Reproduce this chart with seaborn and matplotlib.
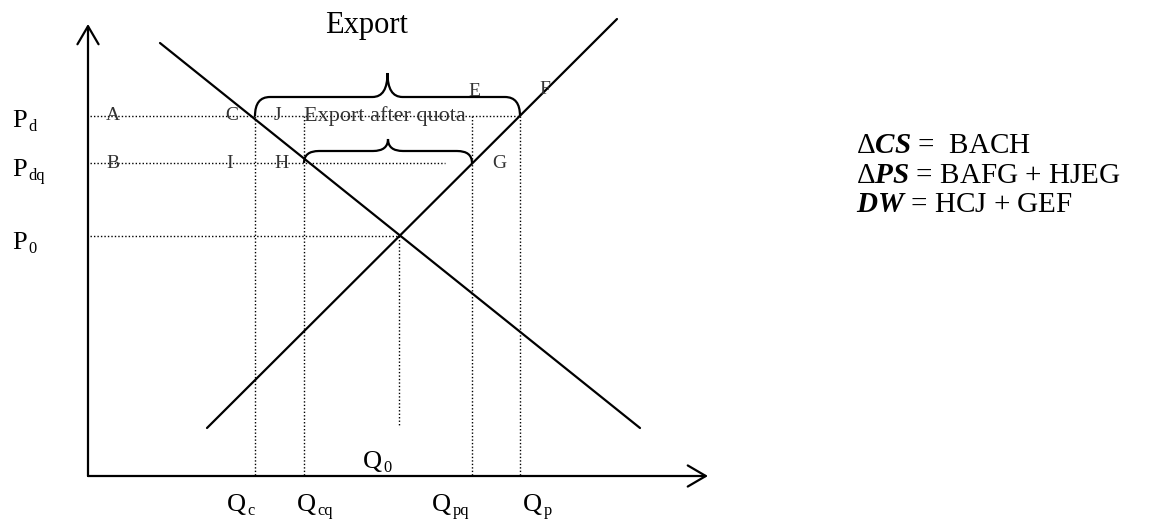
import matplotlib
matplotlib.use("Agg")
import matplotlib.pyplot as plt
from matplotlib.patches import FancyArrowPatch, PathPatch
from matplotlib.path import Path
import seaborn as sns

# ------------------------------
# Diagram values (pixel-like units, origin at the axes corner)
# ------------------------------
demand_q = [72, 552]
demand_p = [433, 48]
supply_q = [119, 529]
supply_p = [48, 457]

# price levels (labels on the left)
p_subs = ["d", "dq", "0"]
p_levels = [360, 313, 240]
p_line_end = [432, 357, 311]
p_label_base = [349, 300, 227]

# quantity levels (labels under the axis)
q_subs = ["c", "cq", "pq", "p"]
q_levels = [167, 216, 384, 432]
q_label_x = [139, 209, 344, 435]
q0_level = 311
q0_bottom = 49

# point letters
pt_names = ["A", "C", "J", "E", "F", "B", "I", "H", "G"]
pt_x = [25, 144, 189, 386, 457, 25, 142, 194, 411]
pt_y = [360, 360, 360, 385, 386, 313, 313, 313, 313]

# braces: left, right, base, flat level, tip
brace_left = [167, 216]
brace_right = [432, 384]
brace_base = [360, 313]
brace_flat = [379, 325]
brace_tip = [403, 337]

summary = [r"$\Delta\mathit{CS}$ =  BACH",
           r"$\Delta\mathit{PS}$ = BAFG + HJEG",
           r"$\mathit{DW}$ = HCJ + GEF"]
summary_y = [323, 293, 264]

sns.set_theme(style="white")
plt.rcParams["font.family"] = ["Liberation Serif", "DejaVu Serif"]
plt.rcParams["text.color"] = "black"
plt.rcParams["mathtext.fontset"] = "custom"
plt.rcParams["mathtext.rm"] = "Liberation Serif"
plt.rcParams["mathtext.it"] = "Liberation Serif:italic:bold"
plt.rcParams["mathtext.bf"] = "Liberation Serif:bold"

fig = plt.figure(figsize=(11.55, 5.23), dpi=100)
ax = fig.add_axes([0, 0, 1, 1])
ax.set_xlim(-88, 1067)
ax.set_ylim(-47, 476)
ax.axis("off")

# axes with open arrow heads
for end in [(0, 452), (620, 0)]:
    ax.add_patch(FancyArrowPatch((0, 0), end, arrowstyle="->,head_length=0.65,head_width=0.38",
                                 mutation_scale=20, lw=1.6, color="black", shrinkA=0, shrinkB=0))

# demand and supply
sns.lineplot(x=demand_q, y=demand_p, color="black", lw=1.6, ax=ax)
sns.lineplot(x=supply_q, y=supply_p, color="black", lw=1.6, ax=ax)

dots = dict(color="black", lw=1, ls=(0, (1, 1.5)))
for p, xe in zip(p_levels, p_line_end):
    ax.plot([2, xe], [p, p], **dots)
for q in q_levels:
    ax.plot([q, q], [p_levels[0], 0], **dots)
ax.plot([q0_level, q0_level], [p_levels[2], q0_bottom], **dots)


def brace(x0, x1, base, flat, tip):
    xm = (x0 + x1) / 2
    r = 15
    verts = [(x0, base), (x0, flat), (x0 + r, flat),
             (xm - r, flat),
             (xm, flat), (xm, tip),
             (xm, flat), (xm + r, flat),
             (x1 - r, flat),
             (x1, flat), (x1, base)]
    codes = [Path.MOVETO, Path.CURVE3, Path.CURVE3,
             Path.LINETO,
             Path.CURVE3, Path.CURVE3,
             Path.CURVE3, Path.CURVE3,
             Path.LINETO,
             Path.CURVE3, Path.CURVE3]
    ax.add_patch(PathPatch(Path(verts, codes), fc="none", ec="black", lw=1.6))


for args in zip(brace_left, brace_right, brace_base, brace_flat, brace_tip):
    brace(*args)


def sub_label(x, y, main, sub, size=19):
    t = ax.text(x, y, main, fontsize=size, ha="left", va="baseline")
    ax.annotate(sub, xy=(1, 0), xycoords=t, xytext=(1, -2), textcoords="offset points",
                fontsize=size * 0.62, ha="left", va="bottom")


for name, x, y in zip(pt_names, pt_x, pt_y):
    ax.text(x, y, name, fontsize=14, color="#333333", ha="center", va="center")
ax.text(297, 360, "Export after quota", fontsize=16, color="#333333", ha="center", va="center")
ax.text(278, 443, "Export", fontsize=22, ha="center", va="baseline")

for sub, yb in zip(p_subs, p_label_base):
    sub_label(-76, yb, "P", sub)
for sub, x in zip(q_subs, q_label_x):
    sub_label(x, -35, "Q", sub)
sub_label(275, 8, "Q", "0")

for s, y in zip(summary, summary_y):
    ax.text(768, y, s, fontsize=21, ha="left", va="baseline")

fig.savefig("out.png", dpi=100)
